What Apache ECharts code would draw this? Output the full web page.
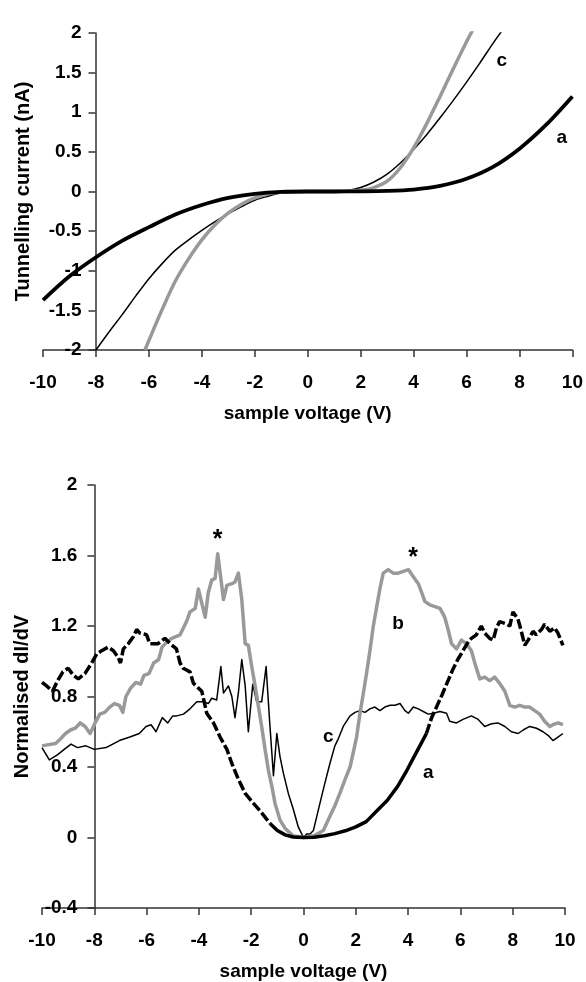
<!DOCTYPE html>
<html>
<head>
    <meta charset="utf-8" />
    <title>Tunnelling current and normalised dI/dV</title>
    <script src="https://cdn.jsdelivr.net/npm/echarts@6/dist/echarts.min.js"></script>
    <style>
        html, body { margin: 0; padding: 0; background: #fff; }
        #chart { width: 586px; height: 982px; }
    </style>
</head>
<body>
    <div id="chart"></div>
    <script>
        // ---- top panel: I-V curves ----
        var ivVoltA = [-10, -9, -8, -7, -6, -5, -4, -3, -2, -1, 0, 1, 2, 3, 4, 5, 6, 7, 8, 9, 10];
        var ivCurrA = [-1.37, -1.07, -0.83, -0.62, -0.45, -0.29, -0.17, -0.08, -0.03, -0.005, 0, 0, 0.002, 0.008, 0.025, 0.07, 0.16, 0.31, 0.54, 0.84, 1.2];

        var ivVoltB = [-6.15, -6, -5.5, -5, -4.5, -4, -3.5, -3, -2.5, -2, -1.5, -1, 0, 1, 1.5, 2, 2.5, 3, 3.5, 4, 4.5, 5, 5.5, 6, 6.3];
        var ivCurrB = [-2, -1.88, -1.49, -1.13, -0.85, -0.61, -0.42, -0.27, -0.16, -0.08, -0.03, -0.01, 0, 0, 0.005, 0.015, 0.05, 0.13, 0.30, 0.55, 0.86, 1.2, 1.55, 1.89, 2.08];

        var ivVoltC = [-8, -7.5, -7, -6.5, -6, -5.5, -5, -4.5, -4, -3.5, -3, -2.5, -2, -1.5, -1, 0, 1, 1.5, 2, 2.5, 3, 3.5, 4, 4.5, 5, 5.5, 6, 6.5, 7, 7.45];
        var ivCurrC = [-2, -1.77, -1.55, -1.32, -1.10, -0.91, -0.74, -0.61, -0.49, -0.38, -0.28, -0.19, -0.11, -0.06, -0.02, 0, 0, 0.01, 0.05, 0.12, 0.22, 0.36, 0.53, 0.72, 0.93, 1.15, 1.38, 1.62, 1.87, 2.08];

        // ---- bottom panel: normalised dI/dV ----
        var dVoltA = [-10, -9.82, -9.6, -9.4, -9.2, -9.0, -8.8, -8.61, -8.36, -8.1, -7.91, -7.72, -7.47, -7.27, -7.08, -7.0, -6.89, -6.7, -6.5, -6.38, -6.26, -6.0, -5.88, -5.56, -5.3, -5.1, -4.86, -4.72, -4.6, -4.34, -4.21, -3.89, -3.7, -3.44, -3.19, -2.93, -2.74, -2.49, -2.23, -1.92, -1.6, -1.28, -1.0, -0.7, -0.4, 0, 0.4, 0.8, 1.2, 1.6, 2.0, 2.4, 2.8, 3.2, 3.6, 3.95, 4.2, 4.45, 4.7, 4.9, 5.1, 5.3, 5.5, 5.7, 5.9, 6.1, 6.3, 6.42, 6.61, 6.8, 6.93, 7.12, 7.25, 7.38, 7.5, 7.7, 7.89, 8.01, 8.2, 8.33, 8.46, 8.59, 8.78, 8.9, 9.1, 9.22, 9.42, 9.6, 9.73, 9.92];
        var dNormA = [0.88, 0.86, 0.83, 0.89, 0.94, 0.96, 0.92, 0.90, 0.93, 0.99, 1.04, 1.06, 1.08, 1.06, 1.02, 0.99, 1.07, 1.10, 1.14, 1.18, 1.16, 1.15, 1.10, 1.10, 1.13, 1.10, 1.07, 0.99, 0.96, 0.94, 0.875, 0.83, 0.705, 0.65, 0.57, 0.50, 0.42, 0.33, 0.25, 0.195, 0.14, 0.08, 0.04, 0.015, 0.003, 0, 0.002, 0.01, 0.022, 0.038, 0.06, 0.09, 0.15, 0.21, 0.29, 0.38, 0.45, 0.52, 0.59, 0.68, 0.745, 0.81, 0.88, 0.95, 1.01, 1.06, 1.11, 1.13, 1.15, 1.20, 1.16, 1.13, 1.12, 1.19, 1.225, 1.215, 1.20, 1.28, 1.24, 1.17, 1.09, 1.12, 1.17, 1.15, 1.18, 1.21, 1.17, 1.19, 1.16, 1.09];

        var dVoltB = [-10, -9.85, -9.48, -9.29, -9.1, -8.91, -8.73, -8.54, -8.35, -8.16, -7.97, -7.79, -7.6, -7.41, -7.23, -7.04, -6.91, -6.79, -6.6, -6.41, -6.23, -6.1, -5.91, -5.73, -5.54, -5.41, -5.22, -5.04, -4.72, -4.46, -4.34, -4.14, -4.02, -3.76, -3.64, -3.51, -3.38, -3.28, -3.06, -2.93, -2.74, -2.62, -2.49, -2.36, -2.23, -2.11, -1.98, -1.85, -1.72, -1.6, -1.47, -1.34, -1.21, -1.09, -0.9, -0.71, -0.4, 0, 0.4, 0.76, 1.01, 1.2, 1.39, 1.59, 1.78, 1.9, 2.03, 2.16, 2.29, 2.41, 2.54, 2.67, 2.8, 2.92, 3.05, 3.24, 3.43, 3.62, 3.82, 4.01, 4.2, 4.39, 4.52, 4.64, 4.83, 5.03, 5.22, 5.4, 5.53, 5.66, 5.85, 6.04, 6.23, 6.42, 6.55, 6.74, 6.93, 7.12, 7.31, 7.5, 7.7, 7.89, 8.08, 8.27, 8.46, 8.65, 8.84, 9.03, 9.22, 9.42, 9.54, 9.73, 9.92];
        var dNormB = [0.52, 0.524, 0.533, 0.56, 0.59, 0.61, 0.62, 0.65, 0.63, 0.59, 0.65, 0.70, 0.71, 0.74, 0.76, 0.75, 0.71, 0.80, 0.85, 0.88, 0.87, 0.92, 0.93, 0.99, 1.01, 1.08, 1.11, 1.13, 1.15, 1.23, 1.28, 1.30, 1.41, 1.25, 1.39, 1.46, 1.47, 1.61, 1.35, 1.43, 1.44, 1.45, 1.50, 1.35, 1.10, 1.09, 0.97, 0.86, 0.74, 0.63, 0.50, 0.38, 0.29, 0.195, 0.10, 0.053, 0.01, 0, 0.01, 0.04, 0.12, 0.18, 0.25, 0.33, 0.40, 0.48, 0.57, 0.705, 0.82, 0.93, 1.06, 1.20, 1.31, 1.41, 1.50, 1.52, 1.50, 1.50, 1.51, 1.52, 1.48, 1.44, 1.39, 1.34, 1.32, 1.31, 1.30, 1.25, 1.18, 1.10, 1.07, 1.12, 1.10, 1.06, 0.99, 0.90, 0.91, 0.89, 0.91, 0.875, 0.83, 0.75, 0.74, 0.75, 0.74, 0.74, 0.72, 0.70, 0.66, 0.63, 0.64, 0.65, 0.64];

        var dVoltC = [-10, -9.72, -9.4, -9.15, -8.89, -8.64, -8.32, -8.0, -7.55, -7.04, -6.64, -6.28, -6.02, -5.83, -5.64, -5.4, -5.19, -5.0, -4.85, -4.59, -4.34, -4.08, -3.83, -3.64, -3.51, -3.32, -3.16, -3.06, -2.87, -2.74, -2.62, -2.49, -2.36, -2.23, -2.11, -1.94, -1.79, -1.6, -1.43, -1.3, -1.15, -1.02, -0.9, -0.77, -0.58, -0.39, -0.2, 0, 0.12, 0.25, 0.38, 0.63, 0.82, 1.01, 1.2, 1.33, 1.52, 1.78, 1.97, 2.16, 2.35, 2.54, 2.73, 2.92, 3.11, 3.31, 3.5, 3.69, 3.88, 4.01, 4.2, 4.39, 4.58, 4.77, 4.96, 5.22, 5.47, 5.59, 5.85, 6.1, 6.42, 6.68, 6.93, 7.19, 7.44, 7.7, 7.95, 8.21, 8.4, 8.65, 8.91, 9.16, 9.35, 9.54, 9.73, 9.92];
        var dNormC = [0.51, 0.44, 0.47, 0.50, 0.53, 0.51, 0.52, 0.50, 0.51, 0.55, 0.57, 0.59, 0.63, 0.64, 0.60, 0.68, 0.65, 0.69, 0.69, 0.70, 0.73, 0.77, 0.77, 0.76, 0.79, 0.78, 0.97, 0.82, 0.86, 0.80, 0.68, 0.82, 1.01, 0.86, 0.60, 0.87, 0.77, 0.77, 0.97, 0.67, 0.35, 0.59, 0.46, 0.365, 0.25, 0.16, 0.06, 0, 0.02, 0.02, 0.04, 0.195, 0.31, 0.42, 0.52, 0.56, 0.63, 0.69, 0.71, 0.72, 0.71, 0.73, 0.74, 0.72, 0.74, 0.75, 0.75, 0.76, 0.72, 0.705, 0.74, 0.73, 0.715, 0.70, 0.705, 0.715, 0.705, 0.66, 0.65, 0.67, 0.69, 0.67, 0.63, 0.645, 0.65, 0.63, 0.60, 0.59, 0.61, 0.63, 0.62, 0.60, 0.58, 0.55, 0.57, 0.59];

        var voltTicks = { min: -10, max: 10, step: 2 };

        var FONT = "'Liberation Sans', Arial, sans-serif";
        var GREY = '#999999';

        function pairs(xs, ys) {
            return xs.map(function (x, i) { return [x, ys[i]]; });
        }
        // keep only points inside [lo, hi]
        function part(xs, ys, lo, hi) {
            return pairs(xs, ys).filter(function (p) { return p[0] >= lo && p[0] <= hi; });
        }
        // text tags placed in data coordinates
        function tags(list) {
            return {
                symbol: 'circle', symbolSize: 0, silent: true, animation: false,
                label: { show: true, position: 'inside', color: '#000', fontWeight: 'bold', fontFamily: FONT, fontSize: 19 },
                data: list.map(function (t) {
                    return { coord: [t[1], t[2]], label: { formatter: t[0], fontSize: t[3] || 19 } };
                })
            };
        }

        function xAxisOpt(gridIndex) {
            return {
                gridIndex: gridIndex, type: 'value',
                min: voltTicks.min, max: voltTicks.max, interval: voltTicks.step,
                name: 'sample voltage (V)', nameLocation: 'middle', nameGap: 54,
                nameTextStyle: { color: '#000', fontSize: 19, fontWeight: 'bold', fontFamily: FONT },
                axisLine: { onZero: false, lineStyle: { color: '#333', width: 1.5 } },
                axisTick: { show: true, length: 7, lineStyle: { color: '#333', width: 1.5 } },
                axisLabel: { margin: 23, color: '#000', fontSize: 19, fontWeight: 'bold', fontFamily: FONT },
                splitLine: { show: false }
            };
        }

        function yAxisOpt(gridIndex, min, max, step, name, offset, margin, gap) {
            return {
                gridIndex: gridIndex, type: 'value', min: min, max: max, interval: step,
                offset: offset,
                name: name, nameLocation: 'middle', nameGap: gap,
                nameTextStyle: { color: '#000', fontSize: 20, fontWeight: 'bold', fontFamily: FONT },
                axisLine: { show: true, onZero: false, lineStyle: { color: '#333', width: 1.5 } },
                axisTick: { show: true, length: 7, lineStyle: { color: '#333', width: 1.5 } },
                axisLabel: { margin: margin, color: '#000', fontSize: 19, fontWeight: 'bold', fontFamily: FONT },
                splitLine: { show: false }
            };
        }

        var myChart = echarts.init(document.getElementById('chart'));
        myChart.setOption({
            animation: false,
            backgroundColor: '#fff',
            grid: [
                { left: 43, right: 13, top: 33, height: 317 },
                { left: 42, right: 21, top: 485, height: 423 }
            ],
            xAxis: [xAxisOpt(0), xAxisOpt(1)],
            yAxis: [
                yAxisOpt(0, -2, 2, 0.5, 'Tunnelling current (nA)', -52.5, 14, 62),
                yAxisOpt(1, -0.4, 2, 0.4, 'Normalised dI/dV', -52.4, 17, 62)
            ],
            series: [
                // top panel
                {
                    name: 'c', type: 'line', xAxisIndex: 0, yAxisIndex: 0,
                    data: pairs(ivVoltC, ivCurrC), showSymbol: false, smooth: 0.3,
                    lineStyle: { color: '#000', width: 1.5 },
                    markPoint: tags([['c', 7.33, 1.65]])
                },
                {
                    name: 'b', type: 'line', xAxisIndex: 0, yAxisIndex: 0,
                    data: pairs(ivVoltB, ivCurrB), showSymbol: false, smooth: 0.3,
                    lineStyle: { color: GREY, width: 3.5 },
                    markPoint: tags([['b', 5.48, 2.07]])
                },
                {
                    name: 'a', type: 'line', xAxisIndex: 0, yAxisIndex: 0,
                    data: pairs(ivVoltA, ivCurrA), showSymbol: false, smooth: 0.3,
                    lineStyle: { color: '#000', width: 3.8 },
                    markPoint: tags([['a', 9.6, 0.68]])
                },
                // bottom panel
                {
                    name: 'c', type: 'line', xAxisIndex: 1, yAxisIndex: 1,
                    data: pairs(dVoltC, dNormC), showSymbol: false,
                    lineStyle: { color: '#000', width: 1.5, join: 'round' },
                    markPoint: tags([['c', 0.95, 0.57]])
                },
                {
                    name: 'b', type: 'line', xAxisIndex: 1, yAxisIndex: 1,
                    data: pairs(dVoltB, dNormB), showSymbol: false,
                    lineStyle: { color: GREY, width: 3.5, join: 'round' },
                    markPoint: tags([['b', 3.62, 1.21], ['*', -3.28, 1.69, 25], ['*', 4.19, 1.585, 25]])
                },
                {
                    name: 'a', type: 'line', xAxisIndex: 1, yAxisIndex: 1,
                    data: part(dVoltA, dNormA, -1.3, 4.7), showSymbol: false,
                    lineStyle: { color: '#000', width: 3.5, join: 'round' },
                    markPoint: tags([['a', 4.77, 0.365]])
                },
                {
                    name: 'a', type: 'line', xAxisIndex: 1, yAxisIndex: 1,
                    data: part(dVoltA, dNormA, -10, -1.28), showSymbol: false,
                    lineStyle: { color: '#000', width: 3.5, type: [10, 3] }
                },
                {
                    name: 'a', type: 'line', xAxisIndex: 1, yAxisIndex: 1,
                    data: part(dVoltA, dNormA, 4.7, 10), showSymbol: false,
                    lineStyle: { color: '#000', width: 3.5, type: [10, 3] }
                }
            ]
        });
    </script>
</body>
</html>
